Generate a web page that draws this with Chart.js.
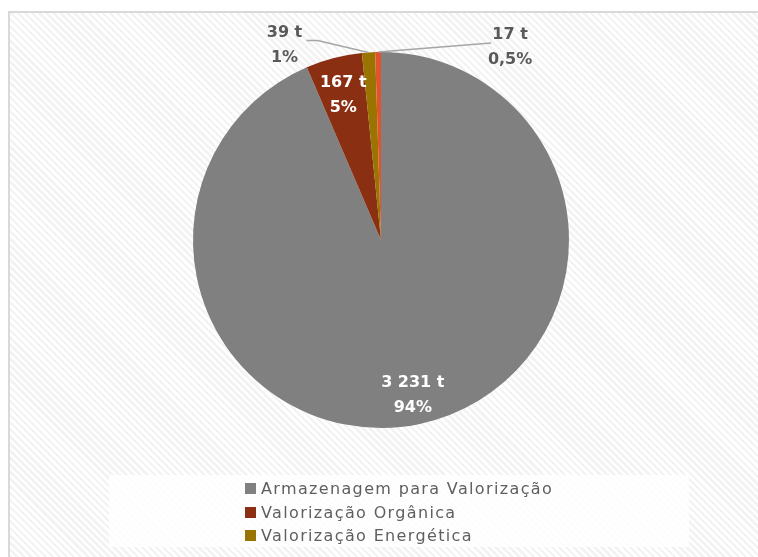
<!DOCTYPE html>
<html lang="pt">
<head>
<meta charset="UTF-8">
<title>Destino dos resíduos</title>
<script src="https://cdn.jsdelivr.net/npm/chart.js@4.4.0/dist/chart.umd.min.js"></script>
<style>
  html, body { margin: 0; padding: 0; background: #fff; }
  #page { position: relative; width: 758px; height: 557px; overflow: hidden; font-family: 'DejaVu Sans', sans-serif; }
  #frame {
    position: absolute; left: 8px; top: 11px; width: 770px; height: 570px;
    border-left: 2px solid #d9d9d9; border-top: 2px solid #d9d9d9;
    background: repeating-linear-gradient(45deg, #ffffff 0px, #ffffff 2.5px, #f3f3f3 2.5px, #f3f3f3 5px);
  }
  #chart-wrap { position: absolute; left: 0; top: 0; width: 758px; height: 557px; }
  #legend-box {
    position: absolute; left: 109px; top: 475px; width: 580px; height: 72px;
    background: rgba(255,255,255,0.8);
  }
  #legend { position: absolute; left: 245px; top: 477px; }
  .item { display: flex; align-items: center; height: 23.5px; font-size: 16px; letter-spacing: 1.35px; color: #5f5f5f; }
  .sw { width: 11px; height: 11px; margin-right: 5px; }
</style>
</head>
<body>
<div id="page">
  <div id="frame"></div>
  <div id="legend-box"></div>
  <div id="chart-wrap"><canvas id="pie"></canvas></div>
  <div id="legend"></div>
</div>
<script>
// data
const categories = ['Armazenagem para Valorização', 'Valorização Orgânica', 'Valorização Energética', 'Outros'];
const tonnes = [3231, 167, 39, 17];
const valueLabels = ['3 231 t', '167 t', '39 t', '17 t'];
const percentLabels = ['94%', '5%', '1%', '0,5%'];
const sliceColors = ['#808080', '#8a2f12', '#9a7400', '#e2532b'];
const legendCount = 3; // only three entries are visible in the legend box

// label placement: inside slices or outside with a leader line
const labelStyle = [
  { inside: true, frac: 0.84 },
  { inside: true, frac: 0.80 },
  { inside: false, dx: -84, dy: -8, elbow: [-51, -12], end: [-62, -12] },
  { inside: false, dx: 132, dy: -5, elbow: [113, -9], end: [113, -9] }
];

const legendEl = document.getElementById('legend');
categories.slice(0, legendCount).forEach((c, i) => {
  const row = document.createElement('div');
  row.className = 'item';
  row.innerHTML = '<span class="sw" style="background:' + sliceColors[i] + '"></span>' + c;
  legendEl.appendChild(row);
});

const labelPlugin = {
  id: 'sliceLabels',
  afterDatasetsDraw(chart) {
    const ctx = chart.ctx;
    const arcs = chart.getDatasetMeta(0).data;
    ctx.save();
    ctx.font = 'bold 16px "DejaVu Sans", sans-serif';
    ctx.textAlign = 'center';
    ctx.textBaseline = 'middle';
    arcs.forEach((arc, i) => {
      const p = arc.getProps(['x', 'y', 'startAngle', 'endAngle', 'outerRadius'], true);
      const mid = (p.startAngle + p.endAngle) / 2;
      const st = labelStyle[i];
      let lx, ly;
      if (st.inside) {
        lx = p.x + Math.cos(mid) * p.outerRadius * st.frac;
        ly = p.y + Math.sin(mid) * p.outerRadius * st.frac;
        ctx.fillStyle = '#ffffff';
      } else {
        const ox = p.x + Math.cos(mid) * p.outerRadius;
        const oy = p.y + Math.sin(mid) * p.outerRadius;
        lx = ox + st.dx;
        ly = oy + st.dy;
        ctx.strokeStyle = '#a6a6a6';
        ctx.lineWidth = 1.5;
        ctx.beginPath();
        ctx.moveTo(ox, oy);
        ctx.lineTo(ox + st.elbow[0], oy + st.elbow[1]);
        ctx.lineTo(ox + st.end[0], oy + st.end[1]);
        ctx.stroke();
        ctx.fillStyle = '#595959';
      }
      ctx.fillText(valueLabels[i], lx, ly - 12);
      ctx.fillText(percentLabels[i], lx, ly + 13);
    });
    ctx.restore();
  }
};

new Chart(document.getElementById('pie'), {
  type: 'pie',
  data: {
    labels: categories,
    datasets: [{
      data: tonnes,
      backgroundColor: sliceColors,
      borderWidth: 0
    }]
  },
  options: {
    responsive: true,
    maintainAspectRatio: false,
    animation: false,
    layout: { padding: { top: 52, bottom: 129, left: 4, right: 0 } },
    plugins: {
      legend: { display: false },
      tooltip: { enabled: false }
    }
  },
  plugins: [labelPlugin]
});
</script>
</body>
</html>
